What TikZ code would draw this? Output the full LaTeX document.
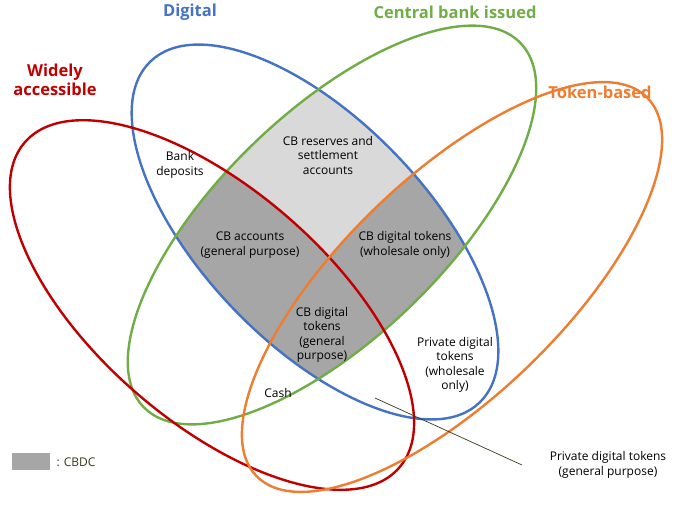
\documentclass[tikz,border=0pt]{standalone}
\usepackage{fontspec}
\setmainfont{Open Sans}
\definecolor{cblue}{HTML}{4472C4}
\definecolor{cgreen}{HTML}{70AD47}
\definecolor{cred}{HTML}{C00000}
\definecolor{corange}{HTML}{ED7D31}
\definecolor{lgray}{HTML}{D9D9D9}
\definecolor{dgray}{HTML}{A6A6A6}
\definecolor{olive}{HTML}{3A3A1A}
\begin{document}
\begin{tikzpicture}[x=1pt,y=-1pt,
  ring/.style={line width=2.4pt},
  lbl/.style={align=center,font=\fontsize{12}{14.5}\selectfont},
  title/.style={font=\fontsize{16.5}{19}\selectfont\bfseries,align=center}]
\useasboundingbox (0,0) rectangle (685,515);
\def\blueE{(315,232) ellipse (237 and 112)}
\def\greenE{(332,225) ellipse (262 and 113)}
\def\redE{(212,305) ellipse (248 and 116)}
\def\orangeE{(452,287) ellipse (272 and 110)}
% fills
\begin{scope}
  \clip[rotate around={-46:(315,232)}] \blueE;
  \clip[rotate around={44:(332,225)}] \greenE;
  \fill[lgray] (0,0) rectangle (685,515);
  \fill[dgray,rotate around={-41:(212,305)}] \redE;
  \fill[dgray,rotate around={44:(452,287)}] \orangeE;
\end{scope}
\draw[ring,cblue,rotate around={-46:(315,232)}] \blueE;
\draw[ring,cgreen,rotate around={44:(332,225)}] \greenE;
\draw[ring,cred,rotate around={-41:(212,305)}] \redE;
\draw[ring,corange,rotate around={44:(452,287)}] \orangeE;
% titles
\node[title,text=cblue] (tdig) at (190,12) {Digital};
\node[title,text=cgreen] (tcb) at (455,12) {Central bank issued};
\node[title,text=cred] (twide) at (55,80) {Widely\\accessible};
\node[title,text=corange] (ttok) at (600,92) {Token-based};
% labels
\node[lbl] (bank) at (180,165) {Bank\\deposits};
\node[lbl] (res) at (328,155) {CB reserves and\\settlement\\accounts};
\node[lbl] (cbacc) at (250,245) {CB accounts\\(general purpose)};
\node[lbl] (cbwh) at (405,245) {CB digital tokens\\(wholesale only)};
\node[lbl] (cbgp) at (322,335) {CB digital\\tokens\\(general\\purpose)};
\node[lbl] (pdw) at (455,365) {Private digital\\tokens\\(wholesale\\only)};
\node[lbl] (cash) at (278,393) {Cash};
\node[lbl] (pdg) at (608,465) {Private digital tokens\\(general purpose)};
\coordinate (pend) at (375,398);
\coordinate (pstart) at (522,465);
\draw[olive,line width=0.7pt] (pstart) -- (pend);
% legend
\fill[dgray] (12,453) rectangle (50,470);
\node[lbl,anchor=west,text=olive] (leg) at (53,462) {: CBDC};
\end{tikzpicture}
\end{document}
